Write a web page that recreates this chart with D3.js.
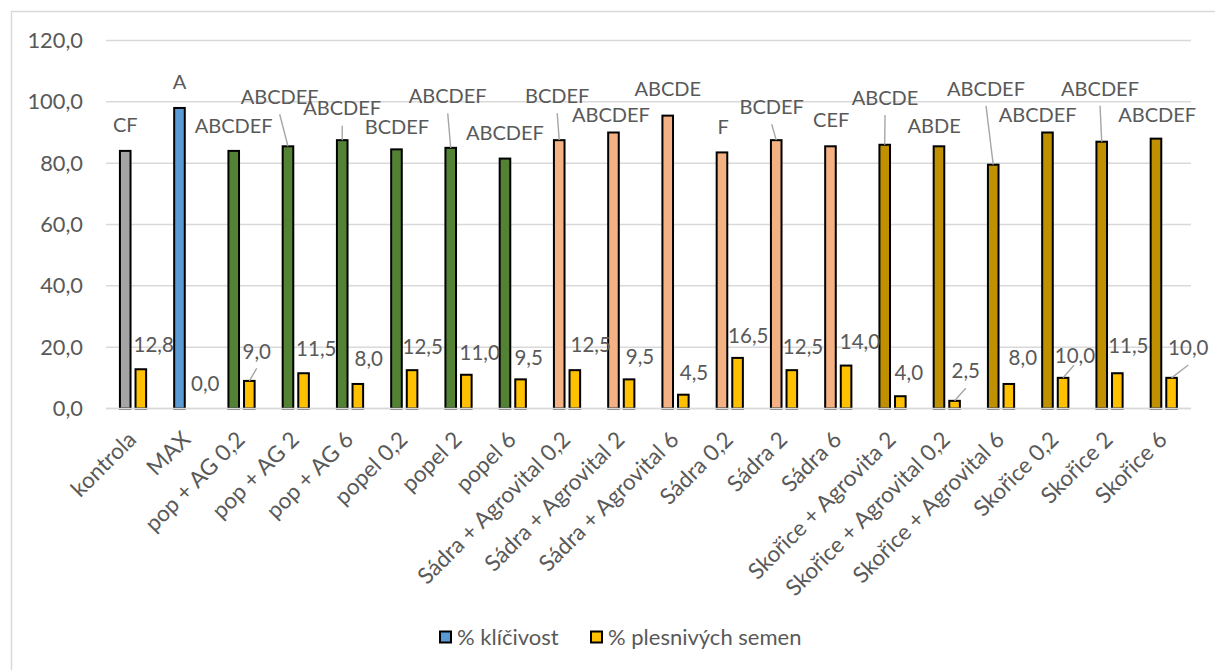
<!DOCTYPE html>
<html>
<head>
<meta charset="utf-8">
<script src="https://cdn.jsdelivr.net/npm/d3@7/dist/d3.min.js"></script>
<style>
  html, body { margin: 0; padding: 0; background: #fff; }
  svg { display: block; font-family: Lato, "Open Sans", sans-serif; }
</style>
</head>
<body>
<svg id="chart" width="1215" height="670"></svg>
<script>
// ---------------- data ----------------
const categories = [
  "kontrola", "MAX", "pop + AG 0,2", "pop + AG 2", "pop + AG 6",
  "popel 0,2", "popel 2", "popel 6",
  "Sádra + Agrovital 0,2", "Sádra + Agrovital 2", "Sádra + Agrovital 6",
  "Sádra 0,2", "Sádra 2", "Sádra 6",
  "Skořice + Agrovita 2", "Skořice + Agrovital 0,2", "Skořice + Agrovital 6",
  "Skořice 0,2", "Skořice 2", "Skořice 6"
];
const klicivost = [84, 98, 84, 85.5, 87.5, 84.5, 85, 81.5, 87.5, 90, 95.5, 83.5, 87.5, 85.5, 86, 85.5, 79.5, 90, 87, 88];
const plesnive  = [12.8, 0, 9, 11.5, 8, 12.5, 11, 9.5, 12.5, 9.5, 4.5, 16.5, 12.5, 14, 4, 2.5, 8, 10, 11.5, 10];
const letters = ["CF", "A", "ABCDEF", "ABCDEF", "ABCDEF", "BCDEF", "ABCDEF", "ABCDEF", "BCDEF", "ABCDEF",
                 "ABCDE", "F", "BCDEF", "CEF", "ABCDE", "ABDE", "ABCDEF", "ABCDEF", "ABCDEF", "ABCDEF"];
const groups = ["kontrola", "max", "pop", "pop", "pop", "pop", "pop", "pop",
                "sadra", "sadra", "sadra", "sadra", "sadra", "sadra",
                "skorice", "skorice", "skorice", "skorice", "skorice", "skorice"];
const yTicks = [0, 20, 40, 60, 80, 100, 120];
const seriesNames = ["% klíčivost", "% plesnivých semen"];

// ---------------- layout / style ----------------
const groupColor = { kontrola: "#A5A5A5", max: "#5B9BD5", pop: "#548235", sadra: "#F4B183", skorice: "#BF9000" };
const yellow = "#FFC000";
const textColor = "#595959";
// label offsets (dx, dy) from bar top-centre to label centre (moved labels as in the source)
const letterOffsets = [[0,-26],[0,-26],[0,-25.6],[-8.3,-49.6],[0,-31.9],[0.5,-23],[-3,-52],[0,-26],[-2,-44.4],[-2.5,-17.7],
                       [0,-26.4],[1.3,-25.7],[-4.5,-33.4],[0.7,-26.1],[0.3,-47.3],[-4.8,-21],[-7.2,-76.4],[-9.8,-17.8],[-1.7,-53.4],[1.2,-23.6]];
const letterLeader = [false,false,false,true,true,false,true,false,true,false,false,false,true,false,true,false,true,false,true,false];
const valueOffsets = [[12.9,-25],[10.2,-25.2],[7.4,-29.6],[12.7,-24.9],[10.9,-25.3],[10.6,-23.5],[13.4,-22.5],[8.1,-22],[15.9,-25.5],[10.9,-22.5],
                      [10.7,-21.7],[10.7,-22.5],[11.2,-23.2],[13.9,-23.6],[8.5,-23.7],[11.2,-29.8],[14,-26.5],[11.9,-22],[11,-27.4],[16.7,-30.3]];
const valueLeader = [null,null,[0,17],null,null,null,null,null,null,null,null,null,null,null,null,[0,17.3],null,[-1,9.5],null,[0,17.5]];

const svg = d3.select("#chart");

// chart border (top & left visible, rest runs off the picture)
svg.append("rect").attr("x", 11.5).attr("y", 11.5).attr("width", 1220).attr("height", 680)
  .attr("fill", "#fff").attr("stroke", "#D9D9D9").attr("stroke-width", 1.5);

const x = d3.scaleBand().domain(categories).range([106, 1191]).paddingInner(0).paddingOuter(0);
const y = d3.scaleLinear().domain([0, 120]).range([408.5, 40.5]);
const fmt = v => d3.format(".1f")(v).replace(".", ",");

// gridlines
svg.append("g").selectAll("line").data(yTicks).join("line")
  .attr("x1", 106).attr("x2", 1191)
  .attr("y1", d => y(d)).attr("y2", d => y(d))
  .attr("stroke", "#D9D9D9").attr("stroke-width", 1.5);

// y tick labels
svg.append("g").selectAll("text").data(yTicks).join("text")
  .attr("x", 83).attr("y", d => y(d) + 7.6)
  .attr("text-anchor", "end").attr("font-size", 21.8).attr("fill", textColor)
  .text(d => fmt(d));

const bw = 10.6;
const cx = c => x(c) + x.bandwidth() / 2;
const b1 = c => cx(c) - 13.2;       // left edge of series 1 bar
const b2 = c => cx(c) + 2.4;        // left edge of series 2 bar

// series 1 bars
svg.append("g").selectAll("rect").data(categories).join("rect")
  .attr("x", c => b1(c)).attr("width", bw)
  .attr("y", (c, i) => y(klicivost[i])).attr("height", (c, i) => y(0) - y(klicivost[i]))
  .attr("fill", (c, i) => groupColor[groups[i]]).attr("stroke", "#000").attr("stroke-width", 2);

// series 2 bars
svg.append("g").selectAll("rect").data(categories.filter((c, i) => plesnive[i] > 0)).join("rect")
  .attr("x", c => b2(c)).attr("width", bw)
  .attr("y", c => y(plesnive[categories.indexOf(c)]))
  .attr("height", c => y(0) - y(plesnive[categories.indexOf(c)]))
  .attr("fill", yellow).attr("stroke", "#000").attr("stroke-width", 2);

// axis baseline
svg.append("line").attr("x1", 106).attr("x2", 1191).attr("y1", y(0)).attr("y2", y(0))
  .attr("stroke", "#D9D9D9").attr("stroke-width", 1.5);

const gLet = svg.append("g").attr("font-size", 20).attr("fill", textColor).attr("text-anchor", "middle");
const gVal = svg.append("g").attr("font-size", 20.5).attr("fill", textColor).attr("text-anchor", "middle");
const leaders = svg.append("g").attr("stroke", "#A6A6A6").attr("stroke-width", 1.4);

categories.forEach((c, i) => {
  const bx1 = b1(c) + bw / 2, top1 = y(klicivost[i]);
  const lx = bx1 + letterOffsets[i][0], ly = top1 + letterOffsets[i][1];
  gLet.append("text").attr("x", lx).attr("y", ly + 7.2).text(letters[i]);
  if (letterLeader[i]) {
    leaders.append("line").attr("x1", lx).attr("y1", ly + 17.5).attr("x2", bx1).attr("y2", top1);
  }
  const bx2 = b2(c) + bw / 2, top2 = y(plesnive[i]);
  const vx = bx2 + valueOffsets[i][0], vy = top2 + valueOffsets[i][1];
  gVal.append("text").attr("x", vx).attr("y", vy + 7.3).text(fmt(plesnive[i]));
  if (valueLeader[i]) {
    leaders.append("line").attr("x1", vx + valueLeader[i][0]).attr("y1", vy + valueLeader[i][1])
      .attr("x2", bx2).attr("y2", top2);
  }
});

// category labels
svg.append("g").selectAll("text").data(categories).join("text")
  .attr("transform", c => `translate(${cx(c) + 4.5},441) rotate(-45)`)
  .attr("text-anchor", "end").attr("font-size", 22.5).attr("fill", textColor)
  .text(c => c);

// legend
const legend = svg.append("g");
const legendX = [439, 590];
const legendColors = [groupColor.max, yellow];
seriesNames.forEach((s, i) => {
  legend.append("rect").attr("x", legendX[i] + 1).attr("y", 631.5).attr("width", 11).attr("height", 11)
    .attr("fill", legendColors[i]).attr("stroke", "#000").attr("stroke-width", 2);
  legend.append("text").attr("x", legendX[i] + 18).attr("y", 645).attr("font-size", 22).attr("fill", textColor).text(s);
});
</script>
</body>
</html>
